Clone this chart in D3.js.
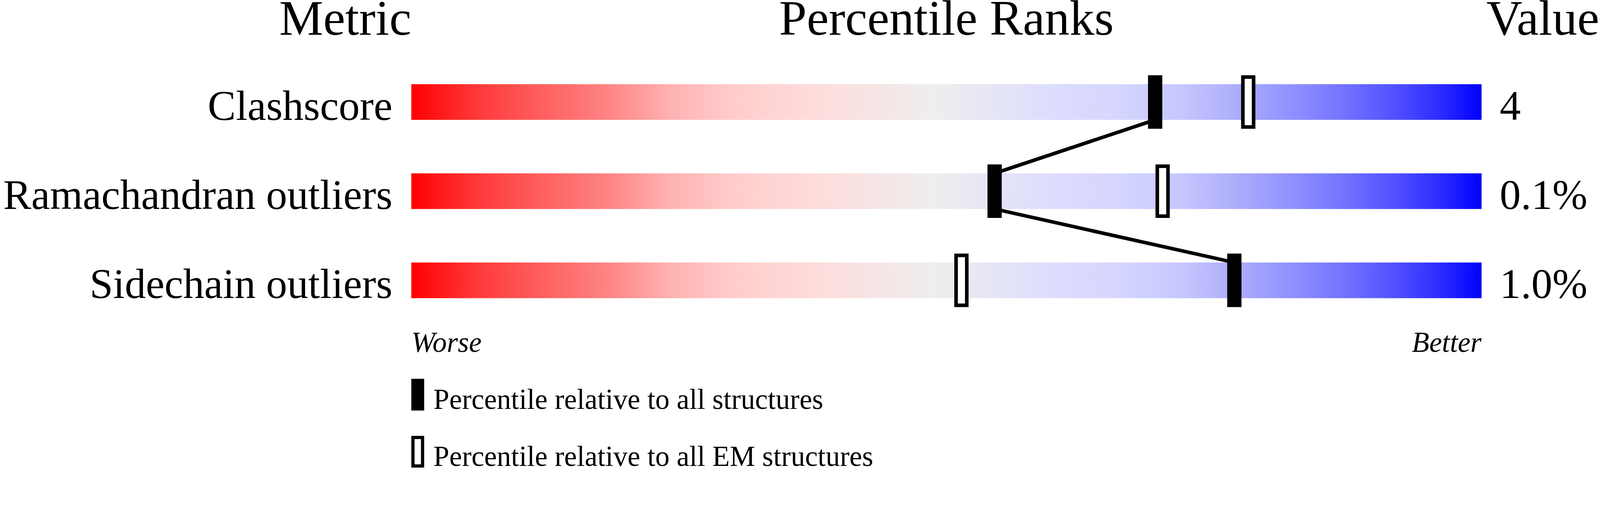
<!DOCTYPE html>
<html>
<head>
<meta charset="utf-8">
<script src="https://cdn.jsdelivr.net/npm/d3@7"></script>
<style>
  html, body { margin: 0; padding: 0; background: #fff; overflow: hidden; }
  svg { display: block; }
  text { font-family: "Liberation Serif", "Times New Roman", serif; fill: #000; }
</style>
</head>
<body>
<script>
// Chart data
const metrics = ["Clashscore", "Ramachandran outliers", "Sidechain outliers"];
const values = ["4", "0.1%", "1.0%"];
const pctAll = [69.5, 54.5, 76.9];   // percentile relative to all structures
const pctEM = [78.2, 70.2, 51.4];    // percentile relative to all EM structures
const headers = ["Metric", "Percentile Ranks", "Value"];
const legendLabels = ["Percentile relative to all structures", "Percentile relative to all EM structures"];

// Slider colour ramp (worse -> better)
const rampStops = [
  [0, "#ff0000"], [0.063, "#ff3a3a"], [0.127, "#ff6262"], [0.19, "#ff8888"],
  [0.24, "#ffb0b0"], [0.30, "#ffcccc"], [0.38, "#ffdcdc"], [0.44, "#f5e6e6"],
  [0.49, "#eeeeee"], [0.55, "#e4e4f6"], [0.6, "#dcdcfe"], [0.66, "#d6d6ff"],
  [0.72, "#c6c6ff"], [0.77, "#adadfc"], [0.82, "#9292ff"], [0.87, "#7474ff"],
  [0.92, "#5050ff"], [0.965, "#2828ff"], [1, "#0000ff"]
];

// drawing is laid out in a 4485 x 1311 box and scaled to the window
const width = 4485;
const height = 1311;

const svg = d3.select("body")
  .append("svg")
  .attr("viewBox", `0 0 ${width} ${height}`)
  .attr("preserveAspectRatio", "xMidYMin meet")
  .style("width", "100vw")
  .style("height", "100vh");

// Scales
const x = d3.scaleLinear().domain([0, 100]).range([1153, 4153]);
const y = d3.scaleBand().domain(metrics).range([236, 836]).paddingInner(0.6).paddingOuter(0);
const markW = 40;
const markOver = 25;

// Gradient
const grad = svg.append("defs").append("linearGradient")
  .attr("id", "ramp")
  .attr("x1", "0%").attr("x2", "100%").attr("y1", "0%").attr("y2", "0%");
grad.selectAll("stop")
  .data(rampStops)
  .join("stop")
  .attr("offset", d => d[0])
  .attr("stop-color", d => d[1]);

// Headers
svg.append("text")
  .attr("x", x.range()[0]).attr("y", 97)
  .attr("text-anchor", "end")
  .style("font-size", "139px")
  .text(headers[0]);
svg.append("text")
  .attr("x", (x.range()[0] + x.range()[1]) / 2).attr("y", 97)
  .attr("text-anchor", "middle")
  .style("font-size", "139px")
  .text(headers[1]);
svg.append("text")
  .attr("x", 4483).attr("y", 97)
  .attr("text-anchor", "end")
  .style("font-size", "139px")
  .text(headers[2]);

// Slider bars
svg.append("g")
  .selectAll("rect")
  .data(metrics)
  .join("rect")
  .attr("x", x(0))
  .attr("y", d => y(d))
  .attr("width", x(100) - x(0))
  .attr("height", y.bandwidth())
  .attr("fill", "url(#ramp)");

// Metric labels
svg.append("g")
  .selectAll("text")
  .data(metrics)
  .join("text")
  .attr("x", 1100)
  .attr("y", d => y(d) + y.bandwidth())
  .attr("text-anchor", "end")
  .style("font-size", "118px")
  .text(d => d);

// Values
svg.append("g")
  .selectAll("text")
  .data(values)
  .join("text")
  .attr("x", 4204)
  .attr("y", (d, i) => y(metrics[i]) + y.bandwidth())
  .style("font-size", "118px")
  .text(d => d);

// Line joining the "all structures" markers
const pts = [];
pctAll.forEach((p, i) => {
  pts.push([x(p), y(metrics[i])]);
  pts.push([x(p), y(metrics[i]) + y.bandwidth()]);
});
svg.append("path")
  .attr("d", d3.line()(pts.slice(1, -1)))
  .attr("fill", "none")
  .attr("stroke", "#000")
  .attr("stroke-width", 10);

// EM markers (open)
svg.append("g")
  .selectAll("rect")
  .data(pctEM)
  .join("rect")
  .attr("x", d => x(d) - markW / 2 + 5)
  .attr("y", (d, i) => y(metrics[i]) - markOver + 5)
  .attr("width", markW - 10)
  .attr("height", y.bandwidth() + 2 * markOver - 10)
  .attr("fill", "#fff")
  .attr("stroke", "#000")
  .attr("stroke-width", 10);

// All-structure markers (filled)
svg.append("g")
  .selectAll("rect")
  .data(pctAll)
  .join("rect")
  .attr("x", d => x(d) - markW / 2)
  .attr("y", (d, i) => y(metrics[i]) - markOver)
  .attr("width", markW)
  .attr("height", y.bandwidth() + 2 * markOver)
  .attr("fill", "#000");

// Worse / Better
svg.append("text")
  .attr("x", x(0)).attr("y", 987)
  .style("font-size", "80px").style("font-style", "italic")
  .text("Worse");
svg.append("text")
  .attr("x", x(100)).attr("y", 987)
  .attr("text-anchor", "end")
  .style("font-size", "80px").style("font-style", "italic")
  .text("Better");

// Legend
const legend = svg.append("g")
  .selectAll("g")
  .data(legendLabels)
  .join("g")
  .attr("transform", (d, i) => `translate(${x(0)},${1062 + i * 160})`);
legend.append("rect")
  .attr("x", (d, i) => i === 0 ? 0 : 4.5)
  .attr("y", (d, i) => i === 0 ? 0 : 4.5)
  .attr("width", (d, i) => i === 0 ? 36 : 27)
  .attr("height", (d, i) => i === 0 ? 89 : 80)
  .attr("fill", (d, i) => i === 0 ? "#000" : "#fff")
  .attr("stroke", (d, i) => i === 0 ? "none" : "#000")
  .attr("stroke-width", 9);
legend.append("text")
  .attr("x", 62)
  .attr("y", 84)
  .style("font-size", "80px")
  .text(d => d);
</script>
</body>
</html>
